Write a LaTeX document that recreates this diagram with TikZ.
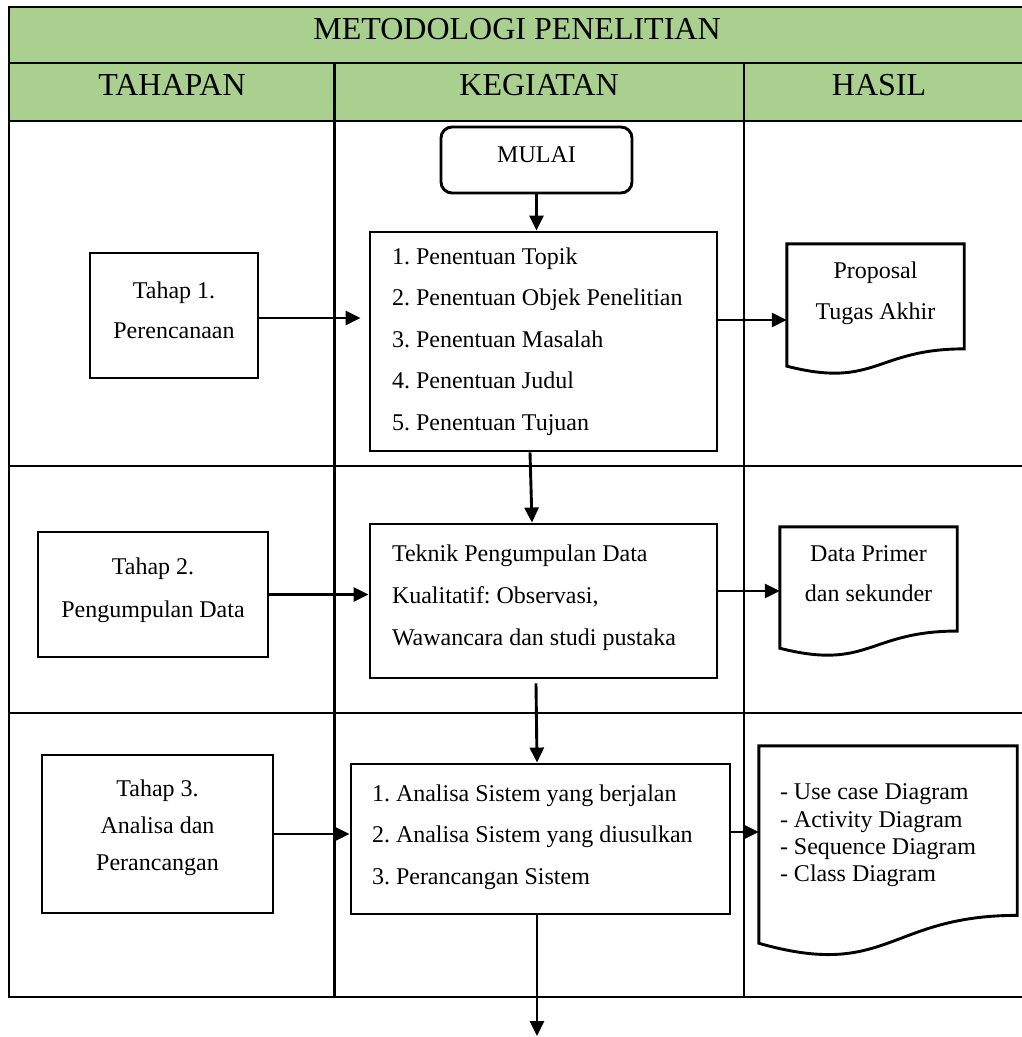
\documentclass[tikz,border=0pt]{standalone}
\usepackage{fontspec}
\setmainfont{Liberation Serif}
\usetikzlibrary{arrows.meta,calc}
\definecolor{headgreen}{HTML}{A9D08E}
\frenchspacing

% invisible strut that deepens the last line, lifting a centred text block
\newcommand\padbelow[1]{\rule[-#1]{0pt}{0pt}}

% outline of a flowchart "document" symbol laid over a named node
\newcommand\drawdocument[1]{%
  \draw[rule, line join=miter] (#1.north west) -- (#1.north east)
    -- ($(#1.north east)!0.802!(#1.south east)$)
    .. controls ($(#1.north)!0.802!(#1.south)$) and ($(#1.north)!1.108!(#1.south)$)
    .. ($(#1.north west)!0.934!(#1.south west)$) -- cycle;}

\begin{document}
\begin{tikzpicture}[x=1pt,y=-1pt,
  rule/.style={line width=2.9pt},
  stepbox/.style={draw, line width=2.9pt, inner sep=0pt, align=center,
    font=\fontsize{24}{40}\selectfont},
  startbox/.style={draw, line width=2.9pt, rounded corners=11pt, inner sep=0pt,
    font=\fontsize{24}{30}\selectfont},
  actbox/.style={draw, line width=2.9pt, inner xsep=22pt, inner ysep=0pt, align=flush left,
    font=\fontsize{24}{41.5}\selectfont},
  docframe/.style={inner sep=0pt},
  doctext/.style={inner sep=0pt, align=center, font=\fontsize{24}{41}\selectfont},
  colhead/.style={anchor=base, inner sep=0pt, font=\fontsize{32}{38}\selectfont},
  arr/.style={line width=2.9pt, -{Triangle[length=15pt,width=14pt]}}]

\useasboundingbox (0,0) rectangle (1021,1037);

% table: green heading rows and grid
\fill[headgreen] (9,7) rectangle (1022,121);
\draw[rule, line join=miter] (1022,7) -- (9,7) -- (9,997) -- (1022,997);
\draw[rule] (9,63) -- (1022,63);
\draw[rule] (9,121) -- (1022,121);
\draw[rule] (9,466) -- (1022,466);
\draw[rule] (9,713) -- (1022,713);
\draw[rule] (334.5,63) -- (334.5,997);
\draw[rule] (744,63) -- (744,997);

\node[colhead] (title) at (517,39) {METODOLOGI PENELITIAN};
\node[colhead] (hTahapan) at (172,95) {TAHAPAN};
\node[colhead] (hKegiatan) at (539,95) {KEGIATAN};
\node[colhead] (hHasil) at (879,95) {HASIL};

% stages
\node[stepbox, minimum width=168pt, minimum height=125pt] (tahap1) at (174,315.5)
  {Tahap 1.\\Perencanaan\padbelow{11pt}};
\node[stepbox, font=\fontsize{24}{43}\selectfont, minimum width=230pt, minimum height=125pt] (tahap2) at (153,594.5)
  {Tahap 2.\\Pengumpulan Data\padbelow{13pt}};
\node[stepbox, font=\fontsize{24}{37}\selectfont, minimum width=231pt, minimum height=158pt] (tahap3) at (157.5,834)
  {Tahap 3.\\Analisa dan\\Perancangan\padbelow{18pt}};

% activities
\node[startbox, minimum width=191pt, minimum height=66pt, text depth=10pt] (mulai) at (536.5,160) {MULAI};
\node[actbox, text width=303pt, minimum height=219pt] (keg1) at (543.5,341.5)
  {1. Penentuan Topik\\2. Penentuan Objek Penelitian\\3. Penentuan Masalah\\4. Penentuan Judul\\5. Penentuan Tujuan};
\node[actbox, font=\fontsize{24}{42}\selectfont, text width=303pt, minimum height=154pt] (keg2) at (543.5,601)
  {Teknik Pengumpulan Data\\Kualitatif: Observasi,\\Wawancara dan studi pustaka\padbelow{11pt}};
\node[actbox, inner xsep=21pt, text width=337pt, minimum height=150pt] (keg3) at (540.5,839)
  {1. Analisa Sistem yang berjalan\\2. Analisa Sistem yang diusulkan\\3. Perancangan Sistem\padbelow{9pt}};

% results
\node[docframe, minimum width=177pt, minimum height=130.6pt] (doc1) at (875.5,309.3) {};
\drawdocument{doc1}
\node[doctext] (doc1text) at ([yshift=16pt]doc1.center) {Proposal\\Tugas Akhir};

\node[docframe, minimum width=177pt, minimum height=129.6pt] (doc2) at (868.5,591.8) {};
\drawdocument{doc2}
\node[doctext, font=\fontsize{24}{40}\selectfont] (doc2text) at ([yshift=18pt]doc2.center) {Data Primer\\dan sekunder};

\node[docframe, minimum width=258pt, minimum height=211pt] (doc3) at (888,851.5) {};
\drawdocument{doc3}
\node[doctext, align=flush left, text width=216pt, font=\fontsize{24}{27.3}\selectfont] (doc3text) at ([yshift=16pt]doc3.center)
  {- Use case Diagram\\- Activity Diagram\\- Sequence Diagram\\- Class Diagram};

% connectors
\coordinate (flowout) at (537,1036);
\draw[arr] (mulai.south) -- (mulai.south |- keg1.north);
\draw[arr] ([xshift=-13.5pt]keg1.south) -- ([xshift=-11.5pt]keg2.north);
\draw[arr] ([xshift=-7.5pt,yshift=-4pt]keg2.south) -- ([xshift=-3.5pt]keg3.north);
\draw[arr] ([xshift=-3.5pt]keg3.south) -- (flowout);

\draw[arr] ([yshift=-2.5pt]tahap1.east) -- ([xshift=-8pt,yshift=-2.5pt]tahap1.east -| keg1.west);
\draw[arr] (tahap2.east) -- (tahap2.east -| keg2.west);
\draw[arr] (tahap3.east) -- (tahap3.east -| keg3.west);

\draw[arr] ([yshift=21.5pt]keg1.east) -- ([yshift=21.5pt]keg1.east -| doc1.west);
\draw[arr] ([yshift=10pt]keg2.east) -- ([yshift=10pt]keg2.east -| doc2.west);
\draw[arr] ([yshift=7pt]keg3.east) -- ([yshift=7pt]keg3.east -| doc3.west);
\end{tikzpicture}
\end{document}
